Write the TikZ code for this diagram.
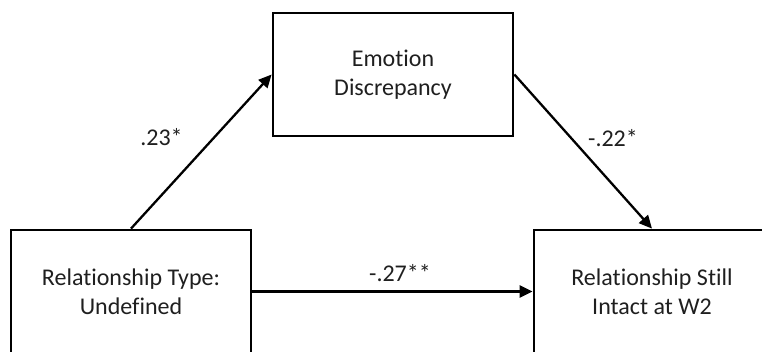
\documentclass[tikz,border=0pt]{standalone}
\usepackage{fontspec}
\setmainfont[Ligatures=NoCommon]{Carlito}
\usetikzlibrary{arrows.meta}
\begin{document}
\begin{tikzpicture}[x=1pt,y=-1pt,
  varbox/.style={draw=black,line width=2.8pt,minimum width=240pt,minimum height=123pt,
    align=center,inner sep=0pt,font=\fontsize{24}{28.5}\selectfont,text=black!88},
  path/.style={line width=2.3pt,-{Triangle[length=13pt,width=12pt]}},
  coef/.style={font=\fontsize{24}{28.5}\selectfont,text=black!88,inner sep=0pt}]
\useasboundingbox (0,0) rectangle (762,351);
\clip (0,0) rectangle (762,351);
\node[varbox] (med) at (393,74.5) {Emotion\\Discrepancy};
\node[varbox] (x) at (131,291.5) {Relationship Type:\\Undefined};
\node[varbox,minimum width=236pt] (y) at (652,291.5) {Relationship Still\\Intact at W2};
\draw[path] (x.north) -- (med.west);
\draw[path] (med.east) -- (y.north);
\draw[path] (x.east) -- (y.west);
\node[coef] (a) at (161.5,137) {.23*};
\node[coef] (b) at (613,138) {-.22*};
\node[coef] (c) at (400,273) {-.27**};
\end{tikzpicture}
\end{document}
